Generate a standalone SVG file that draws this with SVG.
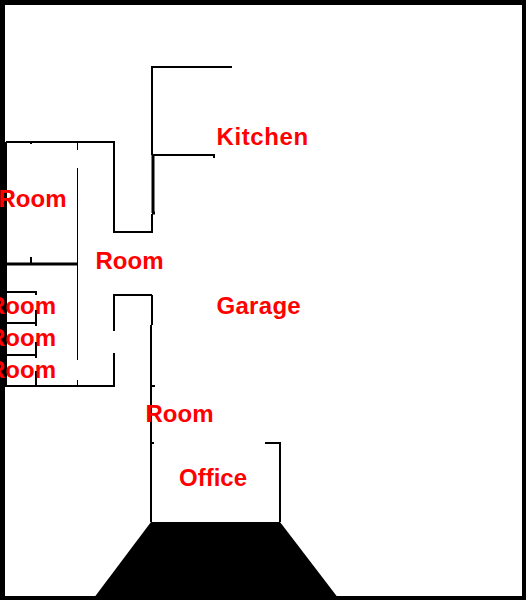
<svg xmlns="http://www.w3.org/2000/svg" width="526" height="600" viewBox="0 0 526 600">
<style>
.w{fill:none;stroke:#000;stroke-width:2}
.t{fill:none;stroke:#000;stroke-width:1}
.h{fill:none;stroke:#000;stroke-width:3}
text{font-family:"Liberation Sans",Arial,sans-serif;font-weight:bold;font-size:24px;fill:#f00}
</style>
<rect width="526" height="600" fill="#000"/>
<g id="building">
<rect x="5" y="5" width="517" height="591" fill="#fff"/>
<rect x="0" y="142" width="7" height="245" fill="#000"/>
<polygon points="151,522 280,522 337,596.500 95,596.500" fill="#000"/>
</g>
<g id="connectors">
<path class="w" d="M232 67H152V155M153 155H214V158M152 214V232H114V142H6M31 142V144"/>
<path class="h" d="M153 155V213M152 213H155"/>
<path class="t" d="M77.500 141V150M77.500 168V360M77.500 380V386"/>
<path class="h" d="M6 264H77"/>
<path class="w" d="M31 257V264"/>
<path class="w" d="M6 292H37M36 292V295M6 323H37M36 310V326M6 355H36M36 342V358M36 371V386M6 386H115M114 386V353M114 331V295H152M152 295V325M151 325V522M151 386H155M151 443H154M265 443H280V522"/>
</g>
<g id="kitchen"><text x="216.500" y="145" letter-spacing="0.600">Kitchen</text></g>
<g id="room1"><text x="-1.500" y="207">Room</text></g>
<g id="room2"><text x="95.500" y="269">Room</text></g>
<g id="garage"><text x="216.500" y="314" letter-spacing="0.300">Garage</text></g>
<g id="room3"><text x="-12" y="314">Room</text></g>
<g id="room4"><text x="-12" y="346">Room</text></g>
<g id="room5"><text x="-12" y="378">Room</text></g>
<g id="room6"><text x="145.500" y="422">Room</text></g>
<g id="office"><text x="179" y="486">Office</text></g>
</svg>
